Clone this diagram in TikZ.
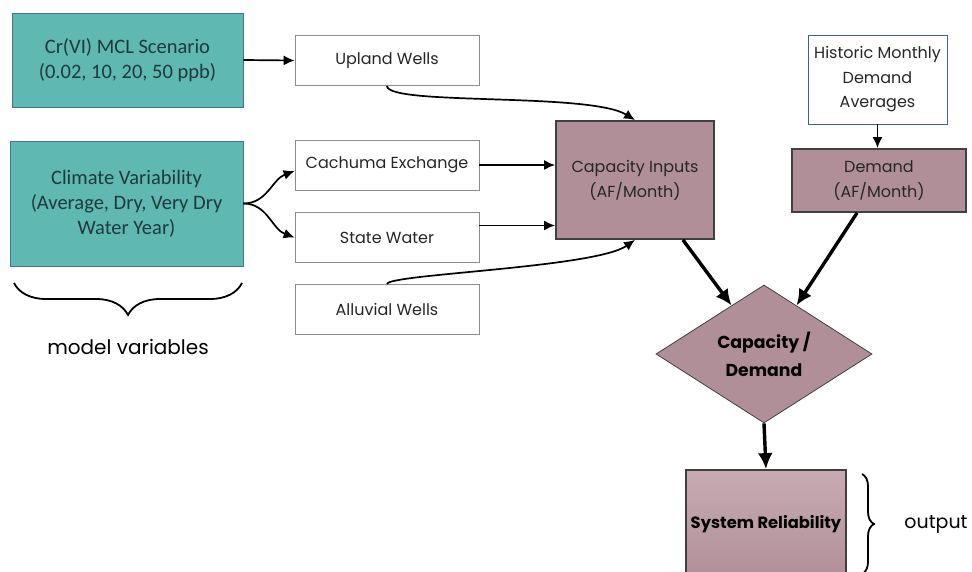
\documentclass[tikz,border=0pt]{standalone}
\usepackage{fontspec}
\setmainfont{Poppins}
\newfontfamily\calib{Carlito}
\usetikzlibrary{arrows.meta, positioning, calc, decorations.pathreplacing, shapes.geometric}
\definecolor{cteal}{HTML}{5FB8B1}
\definecolor{ctealline}{HTML}{41719C}
\definecolor{ctealtext}{HTML}{1E3A3A}
\definecolor{cmauve}{HTML}{B18F99}
\definecolor{cmauvelight}{HTML}{C7ABB3}
\definecolor{cdark}{HTML}{404040}
\definecolor{cgray}{HTML}{8C8C8C}
\definecolor{cblue}{HTML}{3A5FA0}
\definecolor{ctext}{HTML}{262626}

\begin{document}
\begin{tikzpicture}[x=1pt, y=-1pt,
  varbox/.style={draw=ctealline, line width=0.8pt, fill=cteal, align=center,
    font=\calib\fontsize{20.5}{25}\selectfont, text=ctealtext},
  srcbox/.style={draw=cgray, line width=0.8pt, fill=white, align=center,
    minimum width=184pt, minimum height=50pt, font=\fontsize{16}{20}\selectfont, text=ctext},
  calcbox/.style={draw=cdark, line width=1.8pt, fill=cmauve, align=center,
    font=\fontsize{16}{25}\selectfont, text=ctext},
  flow/.style={-{Latex[length=11pt,width=10pt]}, line width=1.7pt},
  bigflow/.style={-{Latex[length=16pt,width=15pt]}, line width=3.4pt},
  brace/.style={decorate, line width=1.8pt}]
  \clip (0,0) rectangle (972,572);
  % model variables
  \node[varbox, minimum width=231pt, minimum height=94pt] (cr) at (127.5,60)
    {Cr(VI) MCL Scenario\\(0.02, 10, 20, 50 ppb)};
  \node[varbox, minimum width=233pt, minimum height=125pt] (clim) at (126.5,203.5)
    {Climate Variability\\(Average, Dry, Very Dry\\Water Year)};
  % supply sources
  \node[srcbox] (upland) at (387,60.5) {Upland Wells};
  \node[srcbox] (cach) at (387,165) {Cachuma Exchange};
  \node[srcbox] (state) at (387,237.5) {State Water};
  \node[srcbox] (alluv) at (387,309.5) {Alluvial Wells};
  % capacity and demand
  \node[calcbox, minimum width=158pt, minimum height=118pt] (cap) at (635,180)
    {Capacity Inputs\\(AF/Month)};
  \node[draw=cblue, line width=0.9pt, fill=white, align=center, text=ctext,
    font=\fontsize{16}{24.5}\selectfont, minimum width=139pt, minimum height=89pt]
    (hist) at (877.5,79.5) {Historic Monthly\\Demand\\Averages};
  \node[calcbox, minimum width=174pt, minimum height=63pt] (dem) at (879,180.5)
    {Demand\\(AF/Month)};
  \node[diamond, draw=cdark, line width=0.8pt, fill=cmauve, align=center, inner sep=0pt,
    minimum width=216pt, minimum height=134pt, text=black,
    font=\bfseries\fontsize{17.3}{28}\selectfont] (dia) at (764,354) {Capacity /\\Demand};
  \node[draw=cdark, line width=1.8pt, top color=cmauvelight, bottom color=cmauve,
    minimum width=160pt, minimum height=108pt, text=black, inner sep=1pt,
    font=\bfseries\fontsize{16.3}{18}\selectfont] (sys) at (766,524) {System Reliability};

  % connectors
  \draw[flow] (cr.east) -- (upland.west);
  \draw[flow] (clim.east) to[out=0, in=200] ([yshift=-6pt]cach.west);
  \draw[flow] (clim.east) to[out=0, in=160] (state.west);
  \draw[flow] (upland.south) .. controls +(0,20) and +(-45,-28) .. (cap.north);
  \draw[flow] (cach.east) -- (cach.east -| cap.west);
  \draw[flow] ([yshift=12pt]state.east) -- ([yshift=12pt]state.east -| cap.west);
  \draw[flow] (alluv.north) .. controls +(0,-10) and +(-40,28) .. (cap.south);
  \draw[flow] (hist.south) -- (hist.south |- dem.north);
  \draw[bigflow] ($(cap.south)!0.6!(cap.south east)$) -- ($(dia.north)!0.3!(dia.west)$);
  \draw[bigflow] ($(dem.south)!0.25!(dem.south west)$) -- ($(dia.north)!0.3!(dia.east)$);
  \draw[bigflow] (dia.south) -- (sys.north);

  % braces
  \coordinate (bl) at (14,283);
  \coordinate (br) at (242,283);
  \draw[brace, decoration={brace, mirror, amplitude=32pt, aspect=0.5}] (bl) -- (br);
  \node[font=\fontsize{20}{22}\selectfont, text=black] (mv) at (128,347) {model variables};
  \coordinate (ot) at (862,474);
  \coordinate (ob) at (862,574);
  \draw[brace, decoration={brace, amplitude=12pt}] (ot) -- (ob);
  \node[font=\fontsize{19}{22}\selectfont, text=black] (out) at (936,524) {output};
\end{tikzpicture}
\end{document}
